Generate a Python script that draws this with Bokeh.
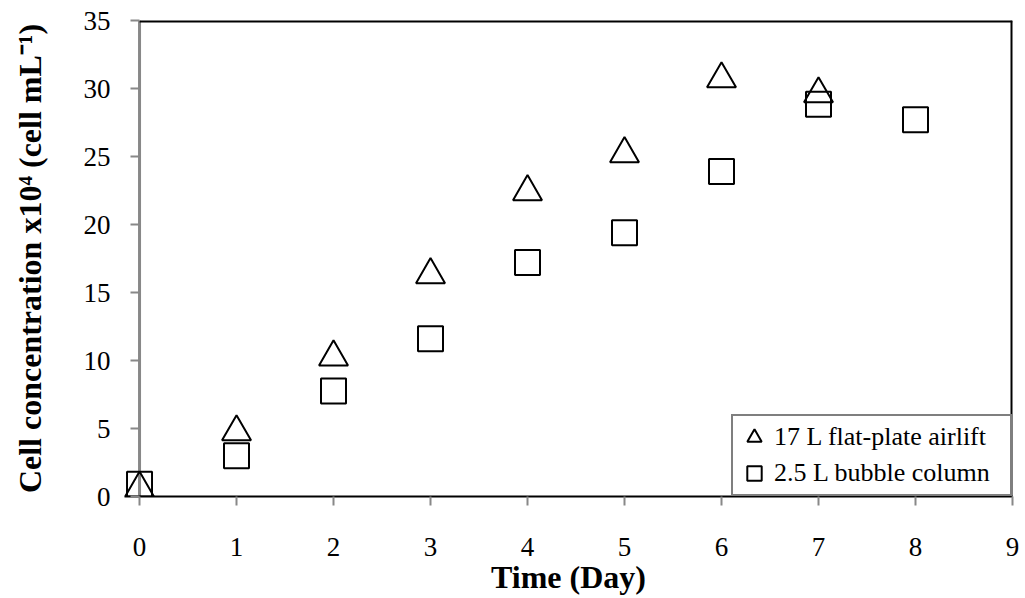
from bokeh.plotting import figure
from bokeh.models import FixedTicker, Range1d, Legend, LegendItem
from bokeh.embed import file_html
from bokeh.resources import INLINE

days_airlift = [0, 1, 2, 3, 4, 5, 6, 7]
airlift = [0.6, 4.75, 10.25, 16.3, 22.4, 25.2, 30.7, 29.6]
days_bubble = [0, 1, 2, 3, 4, 5, 6, 7, 8]
bubble = [0.9, 3.0, 7.75, 11.6, 17.2, 19.4, 23.9, 28.85, 27.7]
x_ticks = [0, 1, 2, 3, 4, 5, 6, 7, 8, 9]
y_ticks = [0, 5, 10, 15, 20, 25, 30, 35]

FONT = "Liberation Serif"

p = figure(width=1022, height=596, output_backend="svg", toolbar_location=None,
           x_range=Range1d(-0.155, 9), y_range=Range1d(0, 35),
           min_border_left=124, min_border_right=10, min_border_top=20, min_border_bottom=100)
p.frame_width = 888
p.frame_height = 476
p.grid.visible = False
p.outline_line_color = None
p.background_fill_color = "white"

# left spine (gray) at x = 0
p.segment(x0=[x_ticks[0]], y0=[y_ticks[0]], x1=[x_ticks[0]], y1=[y_ticks[-1]],
          line_color="#888888", line_width=3)
# top and right border of the plot area
p.segment(x0=[x_ticks[0], x_ticks[-1]], y0=[y_ticks[-1], y_ticks[0]],
          x1=[x_ticks[-1], x_ticks[-1]], y1=[y_ticks[-1], y_ticks[-1]],
          line_color="black", line_width=4)

r1 = p.scatter(days_airlift, airlift, marker="triangle", size=29, fill_color=None,
               line_color="black", line_width=2)
r2 = p.scatter(days_bubble, bubble, marker="square", size=25, fill_color=None,
               line_color="black", line_width=2)

for ax in (p.xaxis[0], p.yaxis[0]):
    ax.major_label_text_font = FONT
    ax.major_label_text_font_size = "27px"
    ax.major_label_text_color = "black"
    ax.axis_label_text_font = FONT
    ax.axis_label_text_font_size = "32px"
    ax.axis_label_text_font_style = "bold"
    ax.axis_label_text_color = "black"
    ax.major_tick_line_color = "#888888"
    ax.major_tick_line_width = 2
    ax.minor_tick_line_color = None

p.xaxis.major_tick_in = 0
p.xaxis.major_tick_out = 9
# y axis sits at the frame edge; ticks are shifted to end at the x = 0 spine
p.yaxis.major_tick_in = 15
p.yaxis.major_tick_out = -6

p.xaxis.ticker = FixedTicker(ticks=x_ticks)
p.yaxis.ticker = FixedTicker(ticks=y_ticks)
p.xaxis.axis_line_color = "black"
p.xaxis.axis_line_width = 2
p.yaxis.axis_line_color = None
p.xaxis.axis_label = "Time (Day)"
p.yaxis.axis_label = "Cell concentration x10\u2074 (cell mL\u207b\u00b9)"
p.xaxis.major_label_standoff = 32
p.yaxis.major_label_standoff = 14
p.xaxis.axis_label_standoff = 0
p.yaxis.axis_label_standoff = 33

legend = Legend(items=[LegendItem(label="17 L flat-plate airlift", renderers=[r1]),
                       LegendItem(label="2.5 L bubble column", renderers=[r2])],
                location="bottom_right")
legend.label_text_font = FONT
legend.label_text_font_size = "26px"
legend.label_text_color = "black"
legend.border_line_color = "black"
legend.border_line_width = 2
legend.margin = 0
legend.padding = 3
legend.spacing = 0
legend.glyph_width = 36
legend.glyph_height = 36
legend.label_standoff = 2
legend.label_height = 36
legend.label_width = 233
legend.background_fill_alpha = 1
p.add_layout(legend)

open("out.html", "w").write(file_html(p, INLINE))
